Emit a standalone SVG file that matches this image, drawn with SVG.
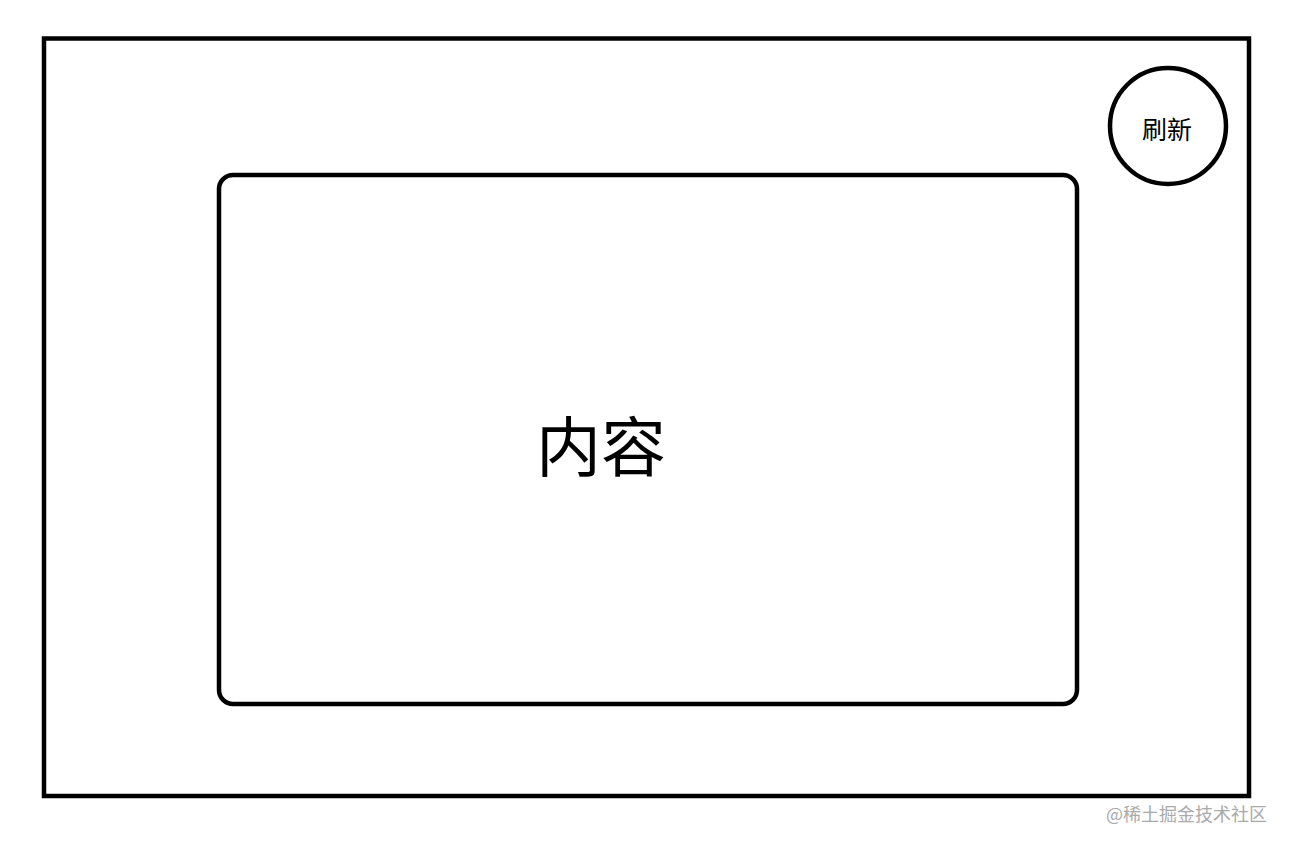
<svg xmlns="http://www.w3.org/2000/svg" width="1290" height="848" viewBox="0 0 1290 848">
<style>
.box{fill:#fff;stroke:#000;stroke-width:4.5}
.t{font-family:"Noto Sans CJK SC","Noto Sans",sans-serif;fill:#000;text-anchor:middle;dominant-baseline:central}
.wm{font-family:"Noto Sans CJK SC","Noto Sans",sans-serif;fill:#aaa;font-size:18px;text-anchor:end}
</style>
<rect width="1290" height="848" fill="#fff"/>
<g id="frame"><rect class="box" x="44" y="38.5" width="1205" height="757.5"/></g>
<g id="content"><rect class="box" x="219" y="175" width="858" height="529" rx="14" ry="14"/>
<text class="t" x="601" y="443" font-size="65">内容</text></g>
<g id="refresh"><circle class="box" cx="1168" cy="126" r="58"/>
<text class="t" x="1167" y="128" font-size="25">刷新</text></g>
<g id="connectors"></g>
<text class="wm" x="1267" y="821">@稀土掘金技术社区</text>
</svg>
